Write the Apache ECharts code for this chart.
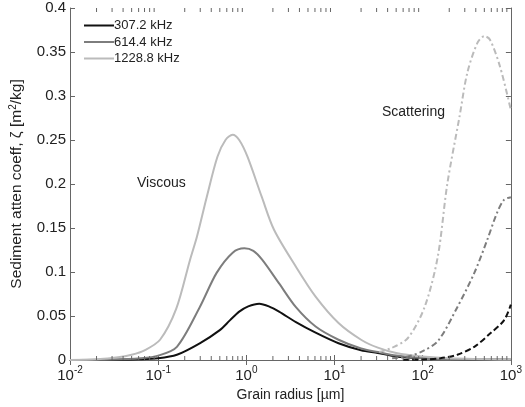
<!DOCTYPE html>
<html><head><meta charset="utf-8">
<script src="https://cdn.jsdelivr.net/npm/echarts@6/dist/echarts.min.js"></script>
<style>html,body{margin:0;padding:0;background:#fff}#c{width:525px;height:407px}</style>
</head><body><div id="c"></div>
<script>
// Grain radius [µm] and attenuation [m^2/kg]
const seriesNames = ['307.2 kHz', '614.4 kHz', '1228.8 kHz'];
const viscous307 = [[0.01,0],[0.03,0.0002],[0.06,0.0008],[0.1,0.002],[0.163,0.006],[0.296,0.019],[0.5,0.034],[0.65,0.045],[0.83,0.055],[1.05,0.061],[1.4,0.064],[1.8,0.061],[2.35,0.055],[3.65,0.043],[6.1,0.031],[11.1,0.019],[20,0.011],[31,0.008],[50,0.004],[100,0.002],[200,0.001],[1000,0.0002]];
const viscous614 = [[0.01,0],[0.03,0.0005],[0.063,0.002],[0.1,0.005],[0.163,0.015],[0.296,0.06],[0.46,0.099],[0.7,0.122],[0.95,0.127],[1.2,0.124],[1.51,0.114],[2.35,0.087],[3.65,0.06],[6.1,0.038],[11.1,0.023],[20,0.013],[31,0.009],[50,0.005],[100,0.002],[200,0.001],[1000,0.0002]];
const viscous1228 = [[0.01,0],[0.02,0.0008],[0.035,0.003],[0.05,0.006],[0.07,0.011],[0.105,0.023],[0.16,0.058],[0.23,0.114],[0.275,0.14],[0.355,0.185],[0.47,0.231],[0.58,0.25],[0.7,0.256],[0.83,0.25],[1.03,0.231],[1.5,0.185],[2.06,0.148],[3.65,0.106],[6.1,0.072],[11.1,0.042],[20,0.023],[31,0.014],[50,0.008],[100,0.004],[200,0.002],[1000,0.0005]];
const scatter307 = [[60,0.0002],[100,0.0005],[159,0.002],[247,0.006],[385,0.015],[580,0.03],[835,0.045],[1000,0.063]];
const scatter614 = [[45,0.002],[68,0.004],[100,0.01],[150,0.022],[247,0.06],[385,0.099],[537,0.136],[695,0.167],[835,0.182],[1000,0.185]];
const scatter1228 = [[32,0.009],[45,0.014],[68,0.025],[105,0.06],[148,0.117],[190,0.2],[262,0.277],[320,0.326],[416,0.36],[500,0.368],[580,0.364],[755,0.333],[1000,0.284]];
const yTicks = [0, 0.05, 0.1, 0.15, 0.2, 0.25, 0.3, 0.35, 0.4];
const xDecades = [-2, -1, 0, 1, 2, 3];
const minorTickValues = [];
for (const d of [-2, -1, 0, 1, 2]) for (let m = 2; m <= 9; m++) minorTickValues.push(m * Math.pow(10, d));

const FONT = 'Liberation Sans, Arial, sans-serif';
const AX = '#666';
const TXT = '#222';
const chart = echarts.init(document.getElementById('c'));
const grid = {left: 70, right: 11, top: 8, bottom: 47};
const xCommon = {type: 'log', logBase: 10, min: 0.01, max: 1000, splitLine: {show: false},
  axisLine: {lineStyle: {color: AX, width: 1}}, axisTick: {inside: true, length: 5, lineStyle: {color: AX}}, minorTick: {show: false}};
const yCommon = {type: 'value', min: 0, max: 0.4, interval: 0.05, splitLine: {show: false},
  axisLine: {show: true, lineStyle: {color: AX, width: 1}}, axisTick: {show: true, inside: true, length: 5, lineStyle: {color: AX}}};
function line(name, data, color, type, width) {
  return {name, type: 'line', data, xAxisIndex: 0, yAxisIndex: 0, smooth: 0.3, symbol: 'none',
    lineStyle: {color, width, type}, itemStyle: {color}, z: 3, silent: true, animation: false};
}
chart.setOption({
  animation: false,
  grid,
  legend: {data: seriesNames, orient: 'vertical', left: 79, top: 14, itemWidth: 30, itemHeight: 2, itemGap: 3.5,
    icon: 'rect', textStyle: {fontFamily: FONT, fontSize: 13, color: TXT, padding: [0, 0, 0, -5]}},
  xAxis: [
    Object.assign({}, xCommon, {position: 'bottom', name: 'Grain radius [µm]', nameLocation: 'middle', nameGap: 23,
      nameTextStyle: {fontFamily: FONT, fontSize: 14, color: TXT},
      axisLabel: {margin: 5, fontFamily: FONT, color: TXT,
        formatter: v => '{b|10}{s|' + Math.round(Math.log10(v)) + '}',
        rich: {b: {fontSize: 15, fontFamily: FONT, color: TXT, verticalAlign: 'bottom', lineHeight: 18},
               s: {fontSize: 10, fontFamily: FONT, color: TXT, verticalAlign: 'top', lineHeight: 18, padding: [0,0,6,0]}}}}),
    Object.assign({}, xCommon, {position: 'top', axisLabel: {show: false}})
  ],
  yAxis: [
    Object.assign({}, yCommon, {position: 'left', name: '{a|Sediment atten coeff, ζ [m}{s|2}{a|/kg]}', nameLocation: 'middle', nameGap: 44,
      nameTextStyle: {fontFamily: FONT, fontSize: 15.5, color: TXT,
        rich: {a: {fontFamily: FONT, fontSize: 15.5, color: TXT}, s: {fontFamily: FONT, fontSize: 10, color: TXT, padding: [0,0,8,0]}}},
      axisLabel: {fontFamily: FONT, fontSize: 15, color: TXT, margin: 4, formatter: v => String(+v.toFixed(2))}}),
    Object.assign({}, yCommon, {position: 'right', axisLabel: {show: false}})
  ],
  series: [
    line(seriesNames[0], viscous307, '#111', 'solid', 2),
    line(seriesNames[1], viscous614, '#7d7d7d', 'solid', 2),
    line(seriesNames[2], viscous1228, '#bbbbbb', 'solid', 2),
    line('scat307', scatter307, '#111', [6, 3], 2),
    line('scat614', scatter614, '#7d7d7d', [6, 3, 2, 3], 2),
    line('scat1228', scatter1228, '#bbbbbb', [6, 3, 2, 3], 2),
    {type: 'custom', data: minorTickValues.map(v => [v]), silent: true, z: 6,
      renderItem: (params, api) => {
        const v = api.value(0);
        const b = api.coord([v, 0]);
        const t = api.coord([v, 0.4]);
        const st = {stroke: AX, lineWidth: 1};
        return {type: 'group', children: [
          {type: 'line', shape: {x1: b[0], y1: b[1], x2: b[0], y2: b[1] - 4}, style: st},
          {type: 'line', shape: {x1: t[0], y1: t[1], x2: t[0], y2: t[1] + 4}, style: st}
        ]};
      }}
  ],
  graphic: [
    {type: 'text', left: 137, top: 176, style: {text: 'Viscous', fontFamily: FONT, fontSize: 14, fill: TXT}},
    {type: 'text', left: 382, top: 105, style: {text: 'Scattering', fontFamily: FONT, fontSize: 14, fill: TXT}}
  ]
});
</script></body></html>
